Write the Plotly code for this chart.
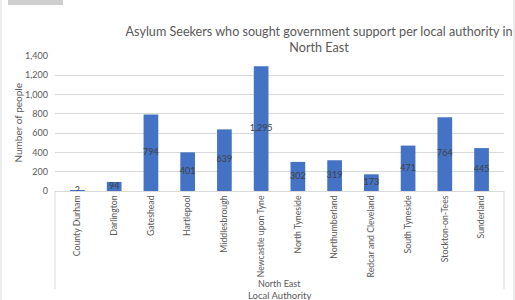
import plotly.graph_objects as go

categories = ["County Durham", "Darlington", "Gateshead", "Hartlepool", "Middlesbrough",
              "Newcastle upon Tyne", "North Tyneside", "Northumberland", "Redcar and Cleveland",
              "South Tyneside", "Stockton-on-Tees", "Sunderland"]
values = [2, 94, 794, 401, 639, 1295, 302, 319, 173, 471, 764, 445]
y_ticks = [0, 200, 400, 600, 800, 1000, 1200, 1400]

W, H = 515, 300
L, R, T, B = 55, 11, 56, 109
pw, ph = W - L - R, H - T - B

def px_x(x):
    return (x - L) / pw

def px_y(y):
    return (H - B - y) / ph

FONT = "Lato"
GREY = "#595959"

fig = go.Figure()
fig.add_trace(go.Bar(x=categories, y=values, marker_color="#4472C4",
                     marker_line_width=0, width=0.4, hoverinfo="skip"))

label_y = [v / 2 for v in values]
fig.add_trace(go.Scatter(x=categories, y=label_y, mode="text",
                         text=[f"{v:,}" for v in values], textposition="middle center",
                         textfont=dict(family=FONT, size=9, color="#404040"),
                         hoverinfo="skip", showlegend=False))

fig.update_layout(
    width=W, height=H, margin=dict(l=L, r=R, t=T, b=B),
    paper_bgcolor="white", plot_bgcolor="white", showlegend=False,
    font=dict(family=FONT, color=GREY),
    bargap=0.6,
    title=dict(text="Asylum Seekers who sought government support per local authority in<br>North East",
               x=319 / W, xanchor="center", y=1 - 36 / H, yanchor="top",
               font=dict(family=FONT, size=12.6, color=GREY)),
    xaxis=dict(type="category", tickangle=-90, tickfont=dict(size=8.7, color=GREY),
               showgrid=False, showline=True, linecolor="#d9d9d9", linewidth=1,
               ticks="", ticklen=0),
    yaxis=dict(range=[0, 1400], tickvals=y_ticks, tickformat=",", showgrid=True,
               gridcolor="#d9d9d9", gridwidth=1, zeroline=False, showline=False,
               tickfont=dict(size=9, color=GREY), ticks="", ticklabelstandoff=6),
    annotations=[
        dict(text="Number of people", x=px_x(17), y=0.5, xref="paper", yref="paper",
             textangle=-90, showarrow=False, font=dict(size=10, color=GREY),
             xanchor="center", yanchor="middle"),
        dict(text="North East", x=0.5, y=px_y(283), xref="paper", yref="paper",
             showarrow=False, font=dict(size=9, color=GREY), yanchor="middle"),
        dict(text="Local Authority", x=0.5, y=px_y(295), xref="paper", yref="paper",
             showarrow=False, font=dict(size=9.5, color=GREY), yanchor="middle"),
    ],
    shapes=[
        dict(type="line", xref="paper", yref="paper", x0=0, x1=0, y0=0, y1=px_y(289),
             line=dict(color="#d9d9d9", width=1)),
        dict(type="line", xref="paper", yref="paper", x0=1, x1=1, y0=0, y1=px_y(289),
             line=dict(color="#d9d9d9", width=1)),
        dict(type="line", xref="paper", yref="paper", x0=px_x(1), x1=px_x(1), y0=px_y(0), y1=px_y(300),
             line=dict(color="#d9d9d9", width=1)),
        dict(type="line", xref="paper", yref="paper", x0=px_x(514), x1=px_x(514), y0=px_y(0), y1=px_y(300),
             line=dict(color="#d9d9d9", width=1)),
        dict(type="rect", xref="paper", yref="paper", x0=px_x(8), x1=px_x(63), y0=px_y(5), y1=px_y(-5),
             line=dict(width=0), fillcolor="#cfcfcf"),
    ],
)

fig.write_html("out.html")
